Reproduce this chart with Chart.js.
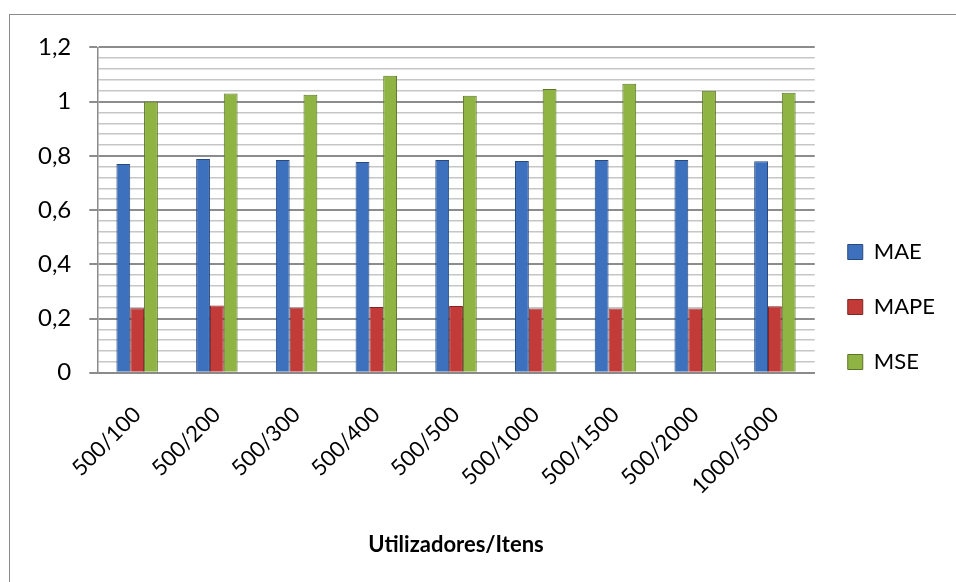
<!DOCTYPE html>
<html lang="pt">

<head>
    <meta charset="UTF-8">
    <script src="https://cdn.jsdelivr.net/npm/chart.js"></script>
    <style>
        html, body {
            margin: 0;
            padding: 0;
            overflow: hidden;
            background: #fff;
        }

        .frame {
            position: absolute;
            left: 9px;
            top: 14px;
            width: 960px;
            height: 620px;
            border: 1px solid #8a8a8a;
        }

        .frame canvas {
            position: absolute;
            left: 0;
            top: 0;
        }
    </style>
</head>

<body>
    <div class="frame">
        <canvas id="chart" width="946" height="600" style="width:946px;height:600px"></canvas>
    </div>

    <script>
        const categories = ['500/100', '500/200', '500/300', '500/400', '500/500', '500/1000', '500/1500', '500/2000', '1000/5000'];
        const maeValues = [0.770, 0.788, 0.785, 0.777, 0.785, 0.781, 0.785, 0.785, 0.780];
        const mapeValues = [0.238, 0.248, 0.241, 0.242, 0.246, 0.237, 0.237, 0.237, 0.245];
        const mseValues = [1.000, 1.030, 1.025, 1.095, 1.022, 1.047, 1.066, 1.040, 1.033];
        const axisTitle = 'Utilizadores/Itens';

        const font = 'Lato, "Open Sans", sans-serif';

        function isMajor(v) {
            return Math.abs(v * 5 - Math.round(v * 5)) < 1e-6;
        }

        new Chart(document.getElementById('chart'), {
            type: 'bar',
            data: {
                labels: categories,
                datasets: [
                    { label: 'MAE', data: maeValues, backgroundColor: '#3d70bd', borderColor: '#27497e', borderWidth: 1 },
                    { label: 'MAPE', data: mapeValues, backgroundColor: '#c23b39', borderColor: '#812624', borderWidth: 1 },
                    { label: 'MSE', data: mseValues, backgroundColor: '#8fb443', borderColor: '#5b7526', borderWidth: 1 }
                ]
            },
            options: {
                responsive: false,
                animation: false,
                datasets: {
                    bar: { categoryPercentage: 0.52, barPercentage: 1 }
                },
                layout: {
                    padding: { left: 10, right: 11, top: 19, bottom: 35 }
                },
                plugins: {
                    legend: {
                        position: 'right',
                        labels: {
                            font: { family: font, size: 22 },
                            color: '#000',
                            boxWidth: 15,
                            boxHeight: 15,
                            padding: 33
                        }
                    },
                    tooltip: { enabled: false }
                },
                scales: {
                    x: {
                        grid: { display: false, drawTicks: false },
                        border: { display: true, color: '#8a8a8a', width: 1.5 },
                        ticks: {
                            font: { family: font, size: 22 },
                            color: '#000',
                            minRotation: 45,
                            maxRotation: 45,
                            padding: 29
                        },
                        title: {
                            display: true,
                            text: axisTitle,
                            font: { family: font, size: 22, weight: 'bold' },
                            color: '#000',
                            padding: { top: 3, bottom: 22 }
                        },
                        // the rotated first label would otherwise push the plot to the right
                        afterFit: scale => {
                            scale.paddingLeft = 0;
                            scale.paddingRight = 0;
                        }
                    },
                    y: {
                        min: 0,
                        max: 1.2,
                        border: { display: true, color: '#8a8a8a', width: 1.5 },
                        grid: {
                            color: ctx => isMajor(ctx.tick.value) ? '#8c8c8c' : '#c6c6c6',
                            lineWidth: ctx => isMajor(ctx.tick.value) ? 2 : 1.5,
                            tickColor: ctx => isMajor(ctx.tick.value) ? '#8c8c8c' : 'rgba(0,0,0,0)',
                            tickLength: 8
                        },
                        ticks: {
                            stepSize: 0.04,
                            autoSkip: false,
                            padding: 18,
                            font: { family: font, size: 24 },
                            color: '#000',
                            callback: v => isMajor(v) ? String(Math.round(v * 10) / 10).replace('.', ',') : ''
                        }
                    }
                }
            }
        });
    </script>

</body>

</html>
